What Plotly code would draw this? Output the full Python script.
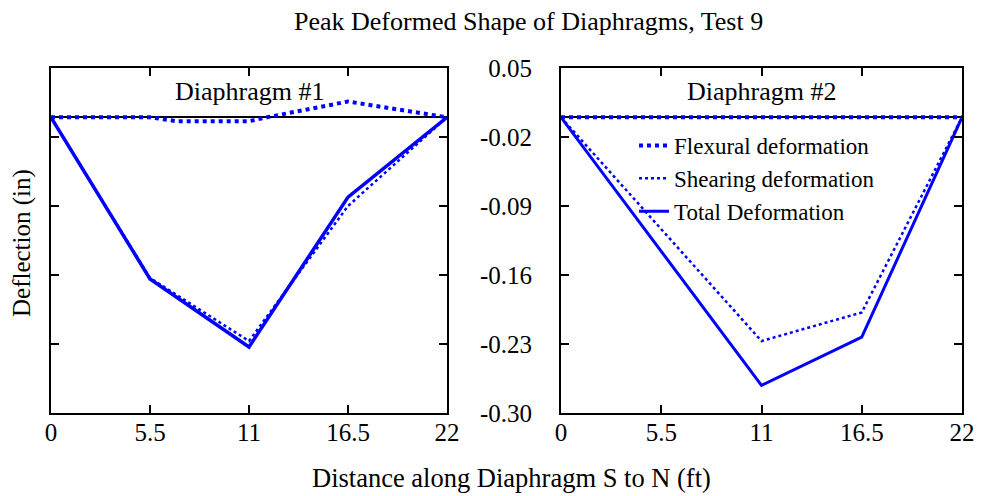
import plotly.graph_objects as go

x_pos = [0, 5.5, 11, 16.5, 22]
x_flex1 = [0, 5.5, 7, 11, 12, 16.5, 22]
flex1 = [0.0, 0.0, -0.004, -0.004, 0.0, 0.016, 0.0]
shear1 = [0.0, -0.163, -0.227, -0.090, 0.0]
total1 = [0.0, -0.164, -0.233, -0.081, 0.0]

flex2 = [0.0, 0.0, 0.0, 0.0, 0.0]
shear2 = [0.0, -0.1135, -0.227, -0.198, 0.0]
total2 = [0.0, -0.136, -0.272, -0.223, 0.0]

y_ticks = [-0.30, -0.23, -0.16, -0.09, -0.02, 0.05]
y_labels = ["-0.30", "-0.23", "-0.16", "-0.09", "-0.02", "0.05"]
x_ticks = [0, 5.5, 11, 16.5, 22]
x_labels = ["0", "5.5", "11", "16.5", "22"]

BLUE = "#0000ff"
FONT = "Liberation Serif"

fig = go.Figure()

def add_panel(xa, ya, xf, f, s, t, show, tw):
    fig.add_trace(go.Scatter(x=xf, y=f, mode="lines", name="Flexural deformation",
                             line=dict(color=BLUE, width=4, dash="dot"),
                             xaxis=xa, yaxis=ya, showlegend=show))
    fig.add_trace(go.Scatter(x=x_pos, y=s, mode="lines", name="Shearing deformation",
                             line=dict(color=BLUE, width=2.5, dash="dot"),
                             xaxis=xa, yaxis=ya, showlegend=show))
    fig.add_trace(go.Scatter(x=x_pos, y=t, mode="lines", name="Total Deformation",
                             line=dict(color=BLUE, width=tw),
                             xaxis=xa, yaxis=ya, showlegend=show))

add_panel("x", "y", x_flex1, flex1, shear1, total1, False, 3.5)
add_panel("x2", "y2", x_pos, flex2, shear2, total2, True, 3)

# page body has an 8px margin: convert screen pixels to figure pixels
W, H = 989, 496
OFF = 8
def px(x):
    return (x - OFF) / W
def py(y):
    return 1 - (y - OFF) / H
def dx(a, b):
    return [px(a), px(b)]
def dy(top, bot):
    return [py(bot), py(top)]

TICKFONT = dict(family=FONT, size=25, color="black")
ax_common = dict(range=[0, 22], tickvals=x_ticks, ticktext=x_labels,
                 ticks="inside", ticklen=8, tickwidth=2, tickcolor="black",
                 showline=True, linecolor="black", linewidth=2, mirror="ticks",
                 showgrid=False, zeroline=False, automargin=False,
                 ticklabelstandoff=-4, tickfont=TICKFONT)
ay_common = dict(range=[-0.30, 0.05], tickvals=y_ticks, ticktext=y_labels,
                 ticks="inside", ticklen=8, tickwidth=2, tickcolor="black",
                 showline=True, linecolor="black", linewidth=2, mirror="ticks",
                 showgrid=False, zeroline=True, zerolinecolor="black", zerolinewidth=2,
                 automargin=False, tickfont=TICKFONT)

fig.update_layout(
    template="none",
    width=W, height=H,
    margin=dict(l=0, r=0, t=0, b=0, pad=0),
    paper_bgcolor="white", plot_bgcolor="white",
    font=dict(family=FONT, color="black"),
    xaxis=dict(domain=dx(51, 447), anchor="y", **ax_common),
    yaxis=dict(domain=dy(68, 413), anchor="x", showticklabels=False, **ay_common),
    xaxis2=dict(domain=dx(561, 962), anchor="y2", **ax_common),
    yaxis2=dict(domain=dy(68, 413), anchor="x2", showticklabels=True,
                ticklabelstandoff=22, **ay_common),
    legend=dict(x=px(634), y=py(124), xanchor="left", yanchor="top",
                bgcolor="rgba(0,0,0,0)", borderwidth=0,
                font=dict(family=FONT, size=23, color="black"),
                tracegroupgap=0, itemwidth=30),
    showlegend=True,
)

fig.add_annotation(text="Peak Deformed Shape of Diaphragms, Test 9", x=px(528), y=py(22),
                   xref="paper", yref="paper", showarrow=False, yanchor="middle",
                   font=dict(family=FONT, size=26, color="black"))
fig.add_annotation(text="Diaphragm #1", x=11, y=py(92), xref="x", yref="paper",
                   showarrow=False, yanchor="middle",
                   font=dict(family=FONT, size=26, color="black"))
fig.add_annotation(text="Diaphragm #2", x=11, y=py(92), xref="x2", yref="paper",
                   showarrow=False, yanchor="middle",
                   font=dict(family=FONT, size=26, color="black"))
fig.add_annotation(text="Deflection (in)", x=px(22), y=py(243), xref="paper", yref="paper",
                   showarrow=False, textangle=-90, xanchor="center", yanchor="middle",
                   font=dict(family=FONT, size=25, color="black"))
fig.add_annotation(text="Distance along Diaphragm S to N (ft)", x=px(511), y=py(478),
                   xref="paper", yref="paper", showarrow=False, yanchor="middle",
                   font=dict(family=FONT, size=26.5, color="black"))

fig.write_html("out.html")
